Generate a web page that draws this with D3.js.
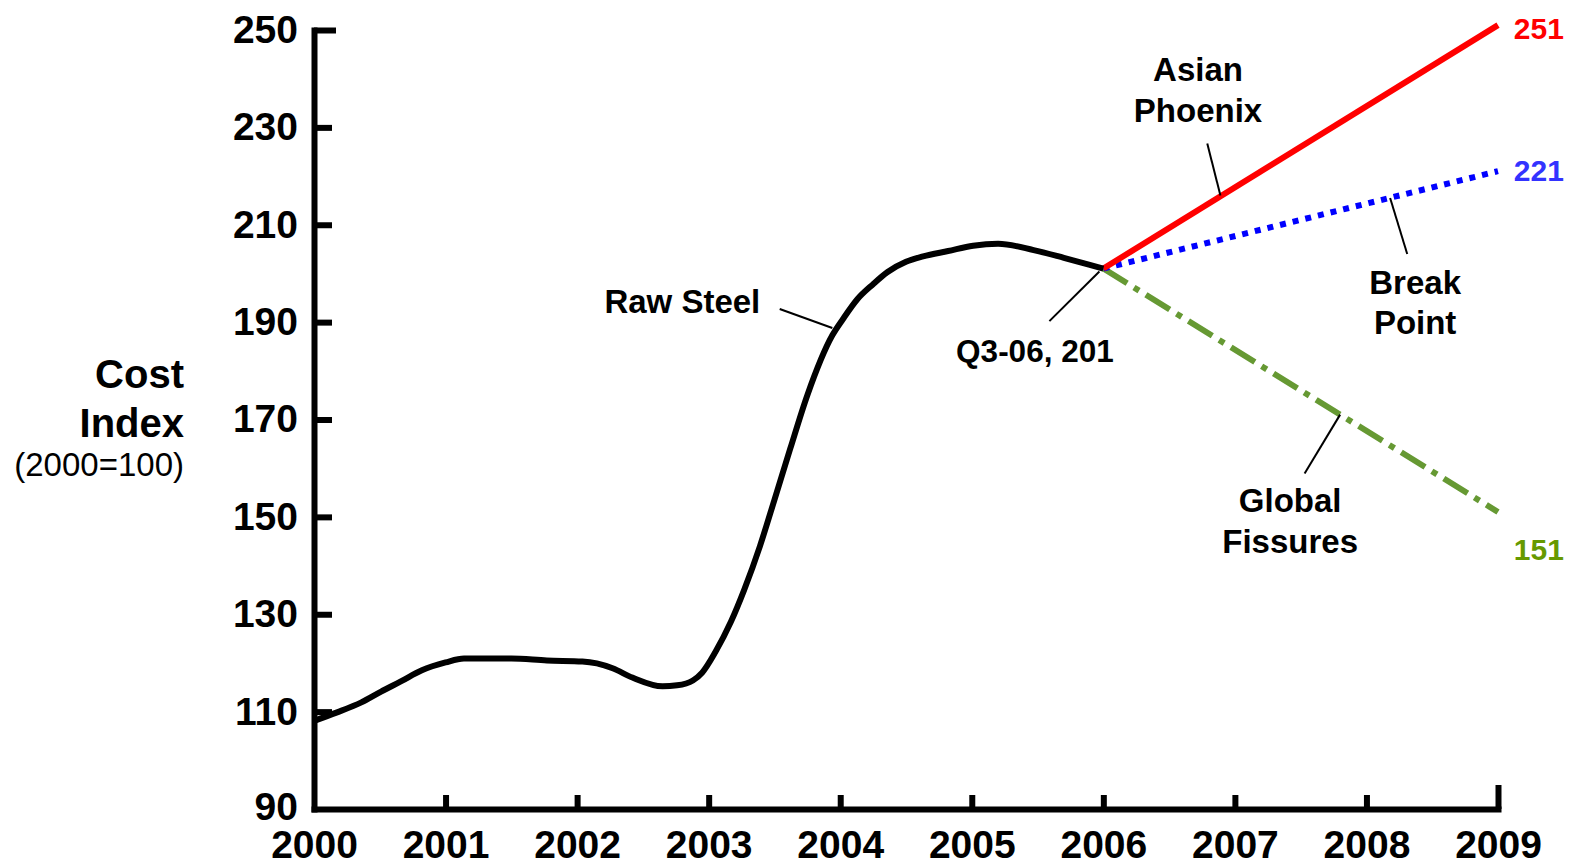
<!DOCTYPE html>
<html>
<head>
<meta charset="utf-8">
<script src="https://cdn.jsdelivr.net/npm/d3@7"></script>
<style>
  html, body { margin: 0; padding: 0; background: #fff; }
  svg { display: block; font-family: Arial, "Liberation Sans", sans-serif; }
</style>
</head>
<body>
<svg id="chart" width="1574" height="865"></svg>
<script>
// ---- data ----
const xTickYears = [2000, 2001, 2002, 2003, 2004, 2005, 2006, 2007, 2008, 2009];
const yTickValues = [90, 110, 130, 150, 170, 190, 210, 230, 250];

const steelDates = [2000.0, 2000.17, 2000.36, 2000.51, 2000.66, 2000.82, 2001.0, 2001.14, 2001.5, 2001.77,
  2002.04, 2002.15, 2002.27, 2002.42, 2002.65, 2002.76, 2002.88, 2002.95, 2003.05, 2003.17,
  2003.27, 2003.39, 2003.5, 2003.62, 2003.75, 2003.94, 2004.02, 2004.13, 2004.25, 2004.36,
  2004.5, 2004.63, 2004.82, 2005.01, 2005.2, 2005.47, 2005.7, 2005.89, 2006.0];
const steelValues = [108.1, 109.8, 111.9, 114.1, 116.2, 118.5, 120.1, 120.9, 120.9, 120.5,
  120.3, 119.9, 118.9, 117.0, 115.2, 115.4, 116.4, 118.0, 122.2, 128.5,
  135.0, 144.0, 153.5, 164.0, 175.0, 187.3, 190.6, 194.7, 197.8, 200.3,
  202.4, 203.5, 204.6, 205.7, 206.1, 204.8, 203.2, 201.8, 201];

const scenarioYears = [2006, 2009];
const asianPhoenix = [201, 251];
const breakPoint = [201, 221];
const globalFissures = [201, 151];

// ---- layout ----
const svg = d3.select("#chart");
const x = d3.scaleLinear().domain([2000, 2009]).range([314, 1498]);
const y = d3.scaleLinear().domain([90, 250]).range([809, 30]);
const FONT = 'Arial, "Liberation Sans", sans-serif';

// ---- axes ----
const yAxis = d3.axisLeft(y).tickValues(yTickValues).tickSizeInner(-18).tickSizeOuter(0).tickPadding(16).tickFormat(d3.format("d"));
const gy = svg.append("g").attr("transform", `translate(${x(2000)},0)`).call(yAxis);
gy.select(".domain").attr("stroke", "#000").attr("stroke-width", 6).attr("stroke-linecap", "square");
gy.selectAll(".tick line").attr("stroke", "#000").attr("stroke-width", 6)
  .attr("x2", d => d === 250 ? 22 : 18);
gy.selectAll(".tick").filter(d => d === 90).select("line").remove();
gy.selectAll(".tick text").attr("font-size", 39).attr("font-weight", "bold").attr("font-family", FONT).attr("fill", "#000");
gy.selectAll(".tick").filter(d => d === 90).select("text").attr("dy", "0.28em");

const xAxis = d3.axisBottom(x).tickValues(xTickYears).tickSizeInner(-14).tickSizeOuter(0).tickPadding(21).tickFormat(d3.format("d"));
const gx = svg.append("g").attr("transform", `translate(0,${y(90)})`).call(xAxis);
gx.select(".domain").attr("stroke", "#000").attr("stroke-width", 6).attr("stroke-linecap", "square");
gx.selectAll(".tick line").attr("stroke", "#000").attr("stroke-width", 6)
  .attr("y2", d => d === 2009 ? -24 : -14);
gx.selectAll(".tick").filter(d => d === 2000).select("line").remove();
gx.selectAll(".tick text").attr("font-size", 39).attr("font-weight", "bold").attr("font-family", FONT).attr("fill", "#000");

// ---- y axis title ----
const title = svg.append("g").attr("font-family", FONT).attr("text-anchor", "end").attr("fill", "#000");
title.append("text").attr("x", 184).attr("y", 374).attr("dy", "0.35em").attr("font-size", 40).attr("font-weight", "bold").text("Cost");
title.append("text").attr("x", 184).attr("y", 423).attr("dy", "0.35em").attr("font-size", 40).attr("font-weight", "bold").text("Index");
title.append("text").attr("x", 184).attr("y", 464).attr("dy", "0.35em").attr("font-size", 33).text("(2000=100)");

// ---- lines ----
const steel = steelDates.map((d, i) => [d, steelValues[i]]);
const line = d3.line().x(d => x(d[0])).y(d => y(d[1]));
const smooth = d3.line().x(d => x(d[0])).y(d => y(d[1])).curve(d3.curveMonotoneX);

function scen(vals) { return scenarioYears.map((d, i) => [d, vals[i]]); }

svg.append("path").datum(scen(globalFissures)).attr("d", line).attr("fill", "none")
  .attr("stroke", "#669933").attr("stroke-width", 6).attr("stroke-dasharray", "28,8,6,8");
svg.append("path").datum(scen(breakPoint)).attr("d", line).attr("fill", "none")
  .attr("stroke", "#0000ff").attr("stroke-width", 6).attr("stroke-dasharray", "6,7");
svg.append("path").datum(scen(asianPhoenix)).attr("d", line).attr("fill", "none")
  .attr("stroke", "#ff0000").attr("stroke-width", 6);
svg.append("path").datum(steel).attr("d", smooth).attr("fill", "none")
  .attr("stroke", "#000").attr("stroke-width", 6).attr("stroke-linejoin", "round");

// ---- annotations ----
const leaders = [
  [[2003.54, 192.7], [2003.94, 188.8]],
  [[2006.79, 226.7], [2006.89, 216.0]],
  [[2008.18, 215.5], [2008.31, 204.0]],
  [[2007.80, 171.0], [2007.53, 158.9]],
  [[2005.97, 200.4], [2005.59, 190.2]]
];
svg.append("g").selectAll("line").data(leaders).join("line")
  .attr("x1", d => x(d[0][0])).attr("y1", d => y(d[0][1]))
  .attr("x2", d => x(d[1][0])).attr("y2", d => y(d[1][1]))
  .attr("stroke", "#000").attr("stroke-width", 2);

const labels = [
  { t: "Raw Steel", x: 2002.80, v: 194.3 },
  { t: "Asian", x: 2006.72, v: 241.8 },
  { t: "Phoenix", x: 2006.72, v: 233.5 },
  { t: "Break", x: 2008.37, v: 198.2 },
  { t: "Point", x: 2008.37, v: 190.0 },
  { t: "Global", x: 2007.42, v: 153.3 },
  { t: "Fissures", x: 2007.42, v: 145.0 },
  { t: "Q3-06, 201", x: 2005.48, v: 184.0, s: 31.5 }
];
svg.append("g").selectAll("text").data(labels).join("text")
  .attr("x", d => x(d.x)).attr("y", d => y(d.v)).attr("dy", "0.35em")
  .attr("text-anchor", "middle").attr("font-family", FONT).attr("font-weight", "bold")
  .attr("font-size", d => d.s || 33).attr("fill", "#000").text(d => d.t);

const endLabels = [
  { t: "251", v: 250.4, c: "#ff0000" },
  { t: "221", v: 221.1, c: "#3333ff" },
  { t: "151", v: 143.2, c: "#669900" }
];
svg.append("g").selectAll("text").data(endLabels).join("text")
  .attr("x", x(2009.12)).attr("y", d => y(d.v)).attr("dy", "0.35em")
  .attr("text-anchor", "start").attr("font-family", FONT).attr("font-weight", "bold")
  .attr("font-size", 30).attr("fill", d => d.c).text(d => d.t);
</script>
</body>
</html>
